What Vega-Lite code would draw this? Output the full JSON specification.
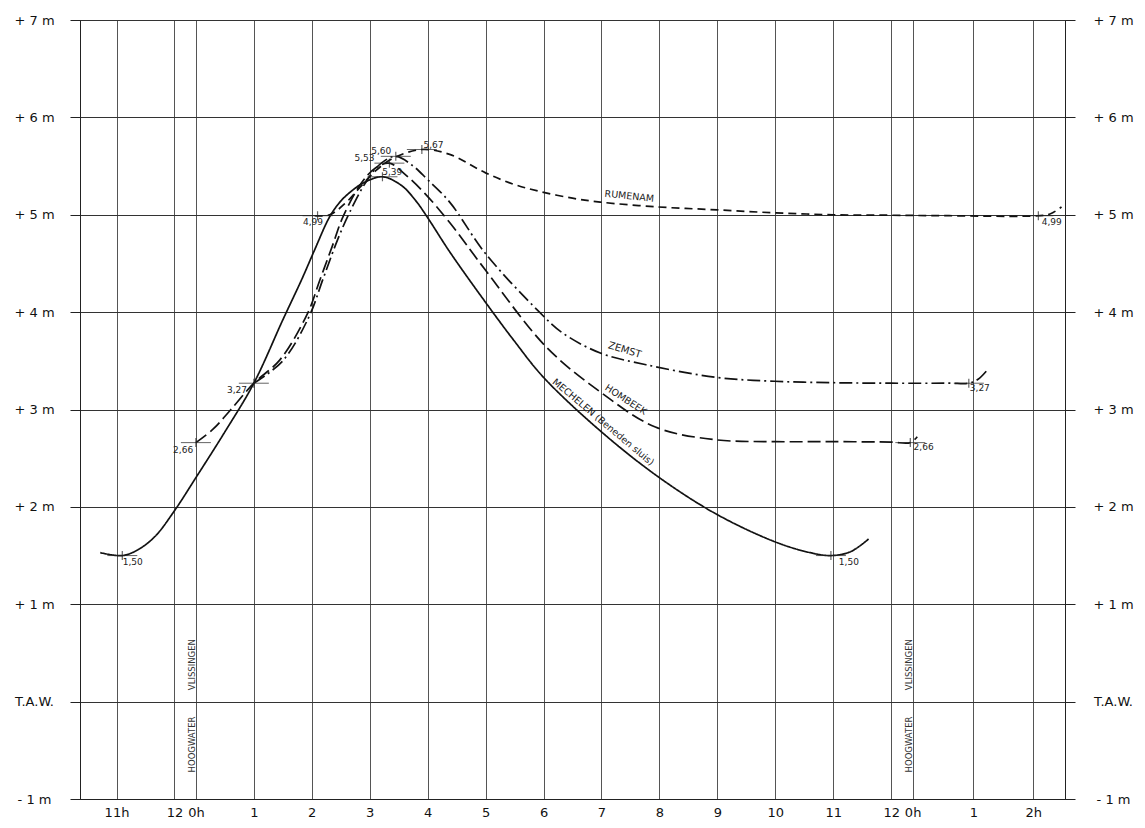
{
  "$schema": "https://vega.github.io/schema/vega-lite/v6.json",
  "width": 985,
  "height": 779,
  "autosize": {"type": "none"},
  "padding": {"left": 80, "top": 20, "right": 80, "bottom": 29},
  "background": "white",
  "config": {
    "view": {"stroke": "#222", "strokeWidth": 1},
    "font": "DejaVu Sans",
    "axis": {"labelFont": "DejaVu Sans", "labelColor": "#111", "domainColor": "#222", "tickColor": "#222"}
  },
  "datasets": {
    "curves": [
      {"series": "Mechelen", "h": -1.65, "m": 1.53},
      {"series": "Mechelen", "h": -1.27, "m": 1.50},
      {"series": "Mechelen", "h": -1.0, "m": 1.56},
      {"series": "Mechelen", "h": -0.7, "m": 1.7},
      {"series": "Mechelen", "h": -0.37, "m": 1.96},
      {"series": "Mechelen", "h": 0, "m": 2.3},
      {"series": "Mechelen", "h": 0.5, "m": 2.77},
      {"series": "Mechelen", "h": 1.0, "m": 3.27},
      {"series": "Mechelen", "h": 1.5, "m": 3.92},
      {"series": "Mechelen", "h": 1.83, "m": 4.34},
      {"series": "Mechelen", "h": 2.05, "m": 4.64},
      {"series": "Mechelen", "h": 2.31, "m": 4.98},
      {"series": "Mechelen", "h": 2.5, "m": 5.14},
      {"series": "Mechelen", "h": 2.7, "m": 5.25},
      {"series": "Mechelen", "h": 2.9, "m": 5.33},
      {"series": "Mechelen", "h": 3.22, "m": 5.39},
      {"series": "Mechelen", "h": 3.55, "m": 5.3},
      {"series": "Mechelen", "h": 3.8, "m": 5.14},
      {"series": "Mechelen", "h": 4.0, "m": 4.97},
      {"series": "Mechelen", "h": 4.38, "m": 4.62},
      {"series": "Mechelen", "h": 5.0, "m": 4.1},
      {"series": "Mechelen", "h": 5.5, "m": 3.7},
      {"series": "Mechelen", "h": 6.0, "m": 3.33},
      {"series": "Mechelen", "h": 7.0, "m": 2.77},
      {"series": "Mechelen", "h": 8.0, "m": 2.3},
      {"series": "Mechelen", "h": 9.0, "m": 1.92},
      {"series": "Mechelen", "h": 10.0, "m": 1.64},
      {"series": "Mechelen", "h": 10.6, "m": 1.53},
      {"series": "Mechelen", "h": 10.96, "m": 1.50},
      {"series": "Mechelen", "h": 11.3, "m": 1.54},
      {"series": "Mechelen", "h": 11.61, "m": 1.67},
      {"series": "Hombeek", "h": 0, "m": 2.66},
      {"series": "Hombeek", "h": 0.3, "m": 2.8},
      {"series": "Hombeek", "h": 0.59, "m": 2.99},
      {"series": "Hombeek", "h": 1.0, "m": 3.27},
      {"series": "Hombeek", "h": 1.45, "m": 3.51},
      {"series": "Hombeek", "h": 1.93, "m": 3.99},
      {"series": "Hombeek", "h": 2.14, "m": 4.33},
      {"series": "Hombeek", "h": 2.35, "m": 4.67},
      {"series": "Hombeek", "h": 2.54, "m": 4.98},
      {"series": "Hombeek", "h": 2.85, "m": 5.32},
      {"series": "Hombeek", "h": 3.1, "m": 5.48},
      {"series": "Hombeek", "h": 3.34, "m": 5.53},
      {"series": "Hombeek", "h": 3.6, "m": 5.42},
      {"series": "Hombeek", "h": 3.95, "m": 5.22},
      {"series": "Hombeek", "h": 4.38, "m": 4.92},
      {"series": "Hombeek", "h": 5.0, "m": 4.43},
      {"series": "Hombeek", "h": 6.05, "m": 3.64},
      {"series": "Hombeek", "h": 6.98, "m": 3.18},
      {"series": "Hombeek", "h": 7.93, "m": 2.82},
      {"series": "Hombeek", "h": 8.96, "m": 2.69},
      {"series": "Hombeek", "h": 10.0, "m": 2.67},
      {"series": "Hombeek", "h": 11.0, "m": 2.67},
      {"series": "Hombeek", "h": 12.0, "m": 2.665},
      {"series": "Hombeek", "h": 12.33, "m": 2.66},
      {"series": "Hombeek", "h": 12.45, "m": 2.72},
      {"series": "Zemst", "h": 1.0, "m": 3.27},
      {"series": "Zemst", "h": 1.5, "m": 3.5},
      {"series": "Zemst", "h": 1.95, "m": 3.95},
      {"series": "Zemst", "h": 2.2, "m": 4.35},
      {"series": "Zemst", "h": 2.45, "m": 4.75},
      {"series": "Zemst", "h": 2.65, "m": 5.02},
      {"series": "Zemst", "h": 2.95, "m": 5.35},
      {"series": "Zemst", "h": 3.2, "m": 5.53},
      {"series": "Zemst", "h": 3.45, "m": 5.60},
      {"series": "Zemst", "h": 3.75, "m": 5.5},
      {"series": "Zemst", "h": 4.0, "m": 5.36},
      {"series": "Zemst", "h": 4.38, "m": 5.13},
      {"series": "Zemst", "h": 5.0, "m": 4.6},
      {"series": "Zemst", "h": 5.93, "m": 4.0},
      {"series": "Zemst", "h": 6.32, "m": 3.79},
      {"series": "Zemst", "h": 6.98, "m": 3.58},
      {"series": "Zemst", "h": 7.77, "m": 3.46},
      {"series": "Zemst", "h": 8.98, "m": 3.33},
      {"series": "Zemst", "h": 9.98, "m": 3.29},
      {"series": "Zemst", "h": 11.0, "m": 3.275},
      {"series": "Zemst", "h": 12.0, "m": 3.27},
      {"series": "Zemst", "h": 13.0, "m": 3.27},
      {"series": "Zemst", "h": 13.34, "m": 3.27},
      {"series": "Zemst", "h": 13.5, "m": 3.31},
      {"series": "Zemst", "h": 13.68, "m": 3.42},
      {"series": "Rumenam", "h": 2.05, "m": 4.99},
      {"series": "Rumenam", "h": 2.31, "m": 5.0},
      {"series": "Rumenam", "h": 2.6, "m": 5.13},
      {"series": "Rumenam", "h": 2.83, "m": 5.28},
      {"series": "Rumenam", "h": 3.1, "m": 5.45},
      {"series": "Rumenam", "h": 3.4, "m": 5.58},
      {"series": "Rumenam", "h": 3.9, "m": 5.67},
      {"series": "Rumenam", "h": 4.38, "m": 5.62},
      {"series": "Rumenam", "h": 5.0, "m": 5.43},
      {"series": "Rumenam", "h": 5.5, "m": 5.31},
      {"series": "Rumenam", "h": 5.93, "m": 5.24},
      {"series": "Rumenam", "h": 6.5, "m": 5.17},
      {"series": "Rumenam", "h": 6.98, "m": 5.13},
      {"series": "Rumenam", "h": 7.98, "m": 5.08},
      {"series": "Rumenam", "h": 9.0, "m": 5.05},
      {"series": "Rumenam", "h": 9.99, "m": 5.02},
      {"series": "Rumenam", "h": 11.0, "m": 5.0},
      {"series": "Rumenam", "h": 12.0, "m": 4.995},
      {"series": "Rumenam", "h": 13.0, "m": 4.99},
      {"series": "Rumenam", "h": 14.54, "m": 4.99},
      {"series": "Rumenam", "h": 14.75, "m": 5.01},
      {"series": "Rumenam", "h": 14.94, "m": 5.08}
    ],
    "extremes": [
      {"h": -1.27, "m": 1.50},
      {"h": 10.96, "m": 1.50},
      {"h": 3.22, "m": 5.39},
      {"h": 0, "m": 2.66},
      {"h": 3.34, "m": 5.53},
      {"h": 12.33, "m": 2.66},
      {"h": 1.0, "m": 3.27},
      {"h": 3.45, "m": 5.60},
      {"h": 13.34, "m": 3.27},
      {"h": 2.1, "m": 4.99},
      {"h": 3.9, "m": 5.67},
      {"h": 14.54, "m": 4.99}
    ],
    "valueLabels": [
      {"text": "1,50", "h": -1.09, "m": 1.435},
      {"text": "2,66", "h": -0.22, "m": 2.585},
      {"text": "3,27", "h": 0.71, "m": 3.2},
      {"text": "4,99", "h": 2.02, "m": 4.93},
      {"text": "5,53", "h": 2.91, "m": 5.58},
      {"text": "5,60", "h": 3.2, "m": 5.655},
      {"text": "5,39", "h": 3.39, "m": 5.44},
      {"text": "5,67", "h": 4.1, "m": 5.72},
      {"text": "4,99", "h": 14.77, "m": 4.93},
      {"text": "2,66", "h": 12.56, "m": 2.61},
      {"text": "3,27", "h": 13.53, "m": 3.22},
      {"text": "1,50", "h": 11.27, "m": 1.435}
    ],
    "seriesLabels": [
      {"text": "RUMENAM", "h": 7.48, "m": 5.19},
      {"text": "ZEMST", "h": 7.4, "m": 3.61},
      {"text": "HOMBEEK", "h": 7.42, "m": 3.1},
      {"text": "MECHELEN (Beneden sluis)", "h": 7.03, "m": 2.87}
    ],
    "notes": [
      {"text": "HOOGWATER", "h": -0.07, "m": -0.44},
      {"text": "VLISSINGEN", "h": -0.07, "m": 0.38},
      {"text": "HOOGWATER", "h": 12.3, "m": -0.44},
      {"text": "VLISSINGEN", "h": 12.3, "m": 0.38}
    ]
  },
  "resolve": {"axis": {"y": "independent"}},
  "layer": [
    {
      "data": {"name": "curves"},
      "mark": {"type": "line", "interpolate": "catmull-rom", "strokeWidth": 1.7, "color": "#111"},
      "encoding": {
        "x": {
          "field": "h", "type": "quantitative",
          "scale": {"domain": [-2, 15], "nice": false, "zero": false},
          "axis": {
            "title": null,
            "values": [-1.37, -0.37, 0, 1, 2, 3, 4, 5, 6, 7, 8, 9, 10, 11, 12, 12.37, 13.42, 14.45],
            "format": "d",
            "labelExpr": "datum.value < -1 ? '11h' : datum.value < -0.1 ? '12' : datum.value == 0 ? '0h' : datum.value > 14 ? '2h' : datum.value > 13 ? '1' : datum.value > 12.1 ? '0h' : datum.label",
            "grid": true, "gridColor": "#555", "gridWidth": 1, "gridOpacity": 1,
            "tickSize": 0, "labelPadding": 7, "labelFontSize": 13, "labelFlush": false, "labelOverlap": false,
            "domain": true, "domainColor": "#222"
          }
        },
        "y": {
          "field": "m", "type": "quantitative",
          "scale": {"domain": [-1, 7], "nice": false, "zero": false},
          "axis": {
            "title": null, "orient": "left",
            "values": [-1, 0, 1, 2, 3, 4, 5, 6, 7],
            "labelExpr": "datum.value == 0 ? 'T.A.W.' : datum.value < 0 ? '- ' + abs(datum.value) + ' m' : '+ ' + datum.value + ' m'",
            "grid": true, "gridColor": "#333", "gridWidth": 1.1, "gridOpacity": 1,
            "tickSize": 10, "labelPadding": 36, "labelAlign": "center", "labelFontSize": 13,
            "labelFlush": false, "labelOverlap": false
          }
        },
        "detail": {"field": "series"},
        "strokeDash": {
          "field": "series", "type": "nominal",
          "scale": {"domain": ["Mechelen", "Hombeek", "Zemst", "Rumenam"], "range": [[1, 0], [13, 5], [13, 4, 2, 4], [8, 5]]},
          "legend": null
        }
      }
    },
    {
      "data": {"name": "extremes"},
      "mark": {"type": "tick", "orient": "horizontal", "size": 30, "thickness": 1, "color": "#222"},
      "encoding": {
        "x": {"field": "h", "type": "quantitative"},
        "y": {
          "field": "m", "type": "quantitative",
          "scale": {"domain": [-1, 7], "nice": false, "zero": false},
          "axis": {
            "title": null, "orient": "right",
            "values": [-1, 0, 1, 2, 3, 4, 5, 6, 7],
            "labelExpr": "datum.value == 0 ? 'T.A.W.' : datum.value < 0 ? '- ' + abs(datum.value) + ' m' : '+ ' + datum.value + ' m'",
            "grid": false,
            "tickSize": 10, "labelPadding": 38, "labelAlign": "center", "labelFontSize": 13,
            "labelFlush": false, "labelOverlap": false
          }
        }
      }
    },
    {
      "data": {"name": "extremes"},
      "mark": {"type": "tick", "orient": "vertical", "size": 9, "thickness": 1.2, "color": "#222"},
      "encoding": {
        "x": {"field": "h", "type": "quantitative"},
        "y": {"field": "m", "type": "quantitative", "axis": null}
      }
    },
    {
      "data": {"name": "valueLabels"},
      "mark": {"type": "text", "fontSize": 9, "color": "#222", "align": "center", "baseline": "middle"},
      "encoding": {
        "x": {"field": "h", "type": "quantitative"},
        "y": {"field": "m", "type": "quantitative", "axis": null},
        "text": {"field": "text"}
      }
    },
    {
      "data": {"name": "seriesLabels"},
      "transform": [{"filter": "datum.text == 'RUMENAM'"}],
      "mark": {"type": "text", "fontSize": 9.5, "color": "#222", "angle": 6, "align": "center", "baseline": "middle"},
      "encoding": {
        "x": {"field": "h", "type": "quantitative"},
        "y": {"field": "m", "type": "quantitative", "axis": null},
        "text": {"field": "text"}
      }
    },
    {
      "data": {"name": "seriesLabels"},
      "transform": [{"filter": "datum.text == 'ZEMST'"}],
      "mark": {"type": "text", "fontSize": 10, "color": "#222", "angle": 17, "align": "center", "baseline": "middle"},
      "encoding": {
        "x": {"field": "h", "type": "quantitative"},
        "y": {"field": "m", "type": "quantitative", "axis": null},
        "text": {"field": "text"}
      }
    },
    {
      "data": {"name": "seriesLabels"},
      "transform": [{"filter": "datum.text == 'HOMBEEK'"}],
      "mark": {"type": "text", "fontSize": 9.5, "color": "#222", "angle": 33, "align": "center", "baseline": "middle"},
      "encoding": {
        "x": {"field": "h", "type": "quantitative"},
        "y": {"field": "m", "type": "quantitative", "axis": null},
        "text": {"field": "text"}
      }
    },
    {
      "data": {"name": "seriesLabels"},
      "transform": [{"filter": "datum.text == 'MECHELEN (Beneden sluis)'"}],
      "mark": {"type": "text", "fontSize": 9.5, "color": "#222", "angle": 40, "align": "center", "baseline": "middle"},
      "encoding": {
        "x": {"field": "h", "type": "quantitative"},
        "y": {"field": "m", "type": "quantitative", "axis": null},
        "text": {"field": "text"}
      }
    },
    {
      "data": {"name": "notes"},
      "mark": {"type": "text", "fontSize": 8.5, "color": "#333", "angle": 270, "align": "center", "baseline": "middle"},
      "encoding": {
        "x": {"field": "h", "type": "quantitative"},
        "y": {"field": "m", "type": "quantitative", "axis": null},
        "text": {"field": "text"}
      }
    }
  ]
}
